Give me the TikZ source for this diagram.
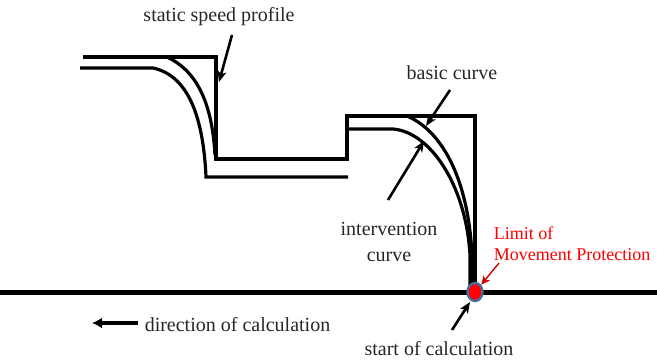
\documentclass[tikz,border=0pt]{standalone}
\usepackage{fontspec}
\setmainfont{Liberation Serif}
\usetikzlibrary{arrows.meta,shapes.geometric}
\definecolor{dotblue}{RGB}{70,110,150}
\tikzset{
  prof/.style={line width=3.2pt, line join=miter},
  curv/.style={line width=3.2pt},
  lbl/.style={font=\fontsize{20}{22}\selectfont, inner sep=0pt, text=black!85},
  rlbl/.style={font=\fontsize{18}{21}\selectfont, inner sep=0pt, text=red, align=left},
  ptr/.style={line width=2.6pt, -{Stealth[length=11pt,width=9pt,inset=3pt]}},
  rptr/.style={line width=1.4pt, red!80!black, -{Stealth[length=9pt,width=8pt,inset=2.5pt]}}
}
\begin{document}
\begin{tikzpicture}[x=1pt,y=-1pt]
\useasboundingbox (0,0) rectangle (657,361);
% ground line
\draw[line width=5pt] (0,292) -- (657,292);
% static speed profile
\draw[prof] (83,57) -- (216,57) -- (216,159) -- (347,159) -- (347,116) -- (475,116) -- (475,290);
% lower (intervention) profile
\draw[prof] (80,68) -- (153,68) .. controls (185,75) and (203,110) .. (206,177) -- (348,177);
\draw[prof] (347,129) -- (393,129) .. controls (430,132) and (466,185) .. (470,255) -- (470,290);
% basic curves
\draw[curv] (167,57) .. controls (195,70) and (212,100) .. (215,155);
\draw[curv] (407,116) .. controls (440,130) and (468,175) .. (472,255) -- (472,290);
% limit dot
\node[draw=dotblue, fill=red, line width=2.4pt, ellipse, minimum width=15pt, minimum height=18pt, inner sep=0pt] (lom) at (475,292) {};
% labels
\node[lbl] (ssp) at (219,17) {static speed profile};
\node[lbl, align=center] (bc) at (452,73) {basic curve};
\node[lbl, align=center] (ic) at (389,242) {intervention\\[4pt]curve};
\node[rlbl] (lmp) at (572,244) {Limit of\\Movement Protection};
\node[lbl] (soc) at (439,349) {start of calculation};
\node[lbl] (doc) at (237.5,325) {direction of calculation};
% arrow coordinates
\coordinate (sspA) at (232,35);
\coordinate (sspB) at (219,82);
\coordinate (bcA) at (450,90);
\coordinate (bcB) at (426,126);
\coordinate (icA) at (388,200);
\coordinate (icB) at (424,141);
\coordinate (lmpA) at (499,263);
\coordinate (socA) at (452,330);
\coordinate (socB) at (470,302);
\coordinate (docA) at (138,323);
\coordinate (docB) at (92,323);
% pointers
\draw[ptr] (sspA) -- (sspB);
\draw[ptr] (bcA) -- (bcB);
\draw[ptr] (icA) -- (icB);
\draw[ptr] (socA) -- (socB);
\draw[rptr] (lmpA) -- (lom.north east);
\draw[line width=4pt, -{Latex[length=10pt,width=11pt]}] (docA) -- (docB);
\end{tikzpicture}
\end{document}
